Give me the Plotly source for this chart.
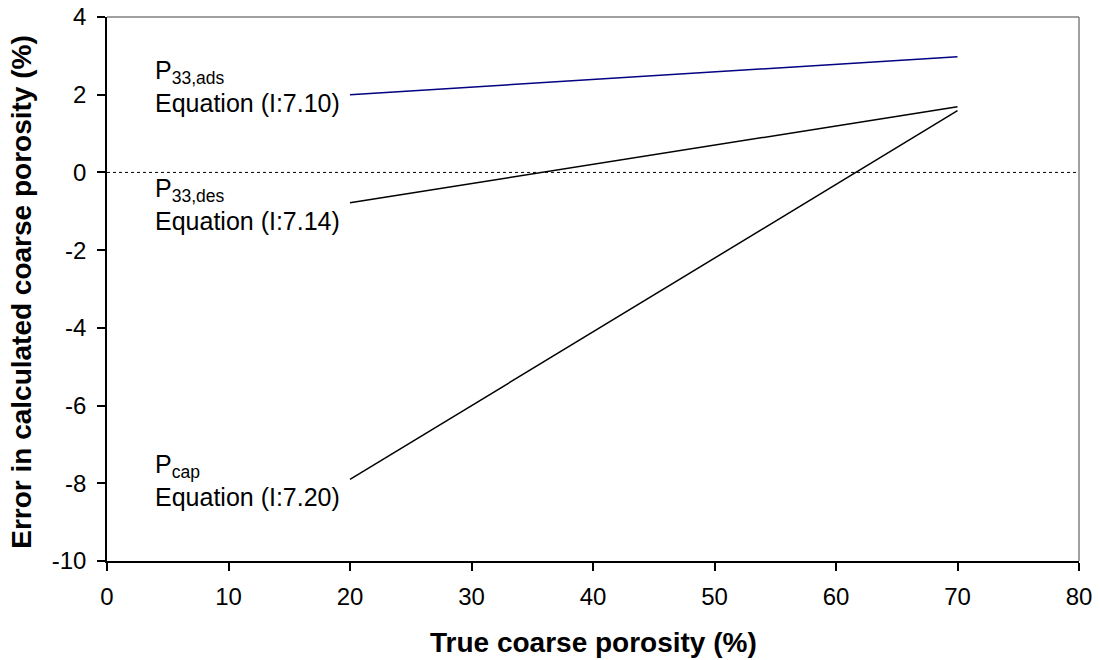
import plotly.graph_objects as go

x_start = [20, 20, 20]
x_end = [70, 70, 70]
series_names = ["P33,ads", "P33,des", "Pcap"]
y_start = [2.0, -0.78, -7.9]
y_end = [2.98, 1.69, 1.59]
colors = ["#000080", "#000000", "#000000"]
labels = ["P<sub>33,ads</sub><br>Equation (I:7.10)",
          "P<sub>33,des</sub><br>Equation (I:7.14)",
          "P<sub>cap</sub><br>Equation (I:7.20)"]
label_y = [2.22, -0.83, -7.92]
x_ticks = [0, 10, 20, 30, 40, 50, 60, 70, 80]
y_ticks = [-10, -8, -6, -4, -2, 0, 2, 4]

FONT = "Liberation Sans, Arial, sans-serif"
fig = go.Figure()
for i in range(3):
    fig.add_trace(go.Scatter(x=[x_start[i], x_end[i]], y=[y_start[i], y_end[i]],
                             mode="lines", line=dict(color=colors[i], width=1.5),
                             name=series_names[i], showlegend=False))
    fig.add_annotation(x=3.75, y=label_y[i], xref="x", yref="y", text=labels[i],
                       showarrow=False, xanchor="left", yanchor="middle", align="left",
                       font=dict(family=FONT, size=25, color="black"))

fig.add_shape(type="line", x0=0, x1=80, y0=0, y1=0, xref="x", yref="y",
              line=dict(color="black", width=1, dash="dot"))

fig.update_layout(
    width=1100, height=660, plot_bgcolor="white", paper_bgcolor="white",
    margin=dict(l=107, r=21, t=17, b=99),
    font=dict(family=FONT, size=24, color="black"),
)
fig.update_xaxes(range=[0, 80], tickvals=x_ticks, ticktext=[str(v) for v in x_ticks],
                 showgrid=False, zeroline=False, automargin=False, ticklabeloverflow="allow",
                 showline=True, linecolor="black", linewidth=1.5,
                 ticks="outside", ticklen=8, tickcolor="black", tickwidth=1.5,
                 tickfont=dict(size=24), ticklabelstandoff=5)
fig.update_yaxes(range=[-10, 4], tickvals=y_ticks, ticktext=[str(v) for v in y_ticks],
                 showgrid=False, zeroline=False, automargin=False, ticklabeloverflow="allow",
                 showline=True, linecolor="black", linewidth=1.5,
                 ticks="outside", ticklen=8, tickcolor="black", tickwidth=1.5,
                 tickfont=dict(size=24), ticklabelstandoff=6)
# axis titles
fig.add_annotation(text="<b>True coarse porosity (%)</b>", xref="paper", yref="paper",
                   x=0.5, y=-0.149, xanchor="center", yanchor="middle", showarrow=False,
                   font=dict(family=FONT, size=28, color="black"))
fig.add_annotation(text="<b>Error in calculated coarse porosity (%)</b>", xref="paper", yref="paper",
                   x=-0.0874, y=0.495, xanchor="center", yanchor="middle", showarrow=False,
                   textangle=-90, font=dict(family=FONT, size=28, color="black"))
# gray top/right border
fig.add_shape(type="line", xref="paper", yref="paper", x0=0, x1=1, y0=1, y1=1,
              line=dict(color="#808080", width=1.5))
fig.add_shape(type="line", xref="paper", yref="paper", x0=1, x1=1, y0=0, y1=1,
              line=dict(color="#808080", width=1.5))

# remove the default 8px page margin so the figure fills the window exactly
fig.write_html("out.html", config={"displayModeBar": False},
               post_script="document.body.style.margin='0px';")
